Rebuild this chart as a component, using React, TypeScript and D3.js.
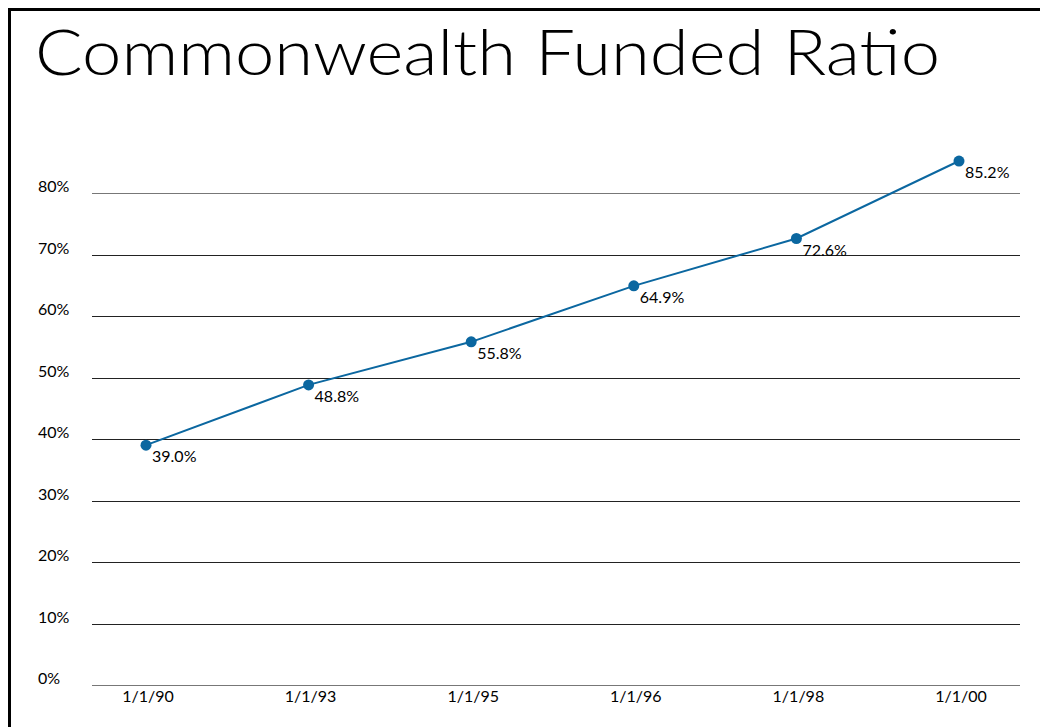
import React from 'react';
import * as d3 from 'd3';

const dates = ['1/1/90', '1/1/93', '1/1/95', '1/1/96', '1/1/98', '1/1/00'];
const ratios = [39.0, 48.8, 55.8, 64.9, 72.6, 85.2];
const yTicks = [0, 10, 20, 30, 40, 50, 60, 70, 80];

const width = 1040,
    height = 727;

const font = 'Lato, "DejaVu Sans", sans-serif';

export default function App() {

    const x = d3.scalePoint<string>()
        .domain(dates)
        .range([146, 959]);

    const y = d3.scaleLinear()
        .domain([0, 80])
        .range([685, 193]);

    const line = d3.line<number>()
        .x((d, i) => x(dates[i]) as number)
        .y(d => y(d));

    return (
        <svg width={width} height={height}
            style={{ position: 'absolute', left: 0, top: 0, background: '#fff' }}>
            <rect x={9.5} y={9.5} width={width + 20} height={height + 20}
                fill="none" stroke="#000" strokeWidth={3} />

            <text x={35} y={75} fontFamily={font} fontSize={64} fontWeight={300} fill="#000"
                textLength={905} lengthAdjust="spacingAndGlyphs">
                Commonwealth Funded Ratio
            </text>

            {yTicks.map(t => (
                <g key={t}>
                    <line x1={92} x2={1020} y1={Math.round(y(t)) + 0.5} y2={Math.round(y(t)) + 0.5}
                        stroke={t === 0 || t === 80 ? '#777' : '#222'} strokeWidth={1} />
                    <text x={38} y={y(t) - 1} fontFamily={font} fontSize={16} fill="#000">
                        {t}%
                    </text>
                </g>
            ))}

            {dates.map(d => (
                <text key={d} x={(x(d) as number) + 2} y={702} textAnchor="middle"
                    fontFamily={font} fontSize={16} fill="#000">
                    {d}
                </text>
            ))}

            <path d={line(ratios) || ''} fill="none" stroke="#0b67a0" strokeWidth={2} />

            {ratios.map((v, i) => (
                <g key={i}>
                    <circle cx={x(dates[i])} cy={y(v)} r={5.5} fill="#0b67a0" />
                    <text x={(x(dates[i]) as number) + 6} y={y(v) + 17}
                        fontFamily={font} fontSize={16} fill="#000">
                        {v.toFixed(1)}%
                    </text>
                </g>
            ))}
        </svg>
    );
}
